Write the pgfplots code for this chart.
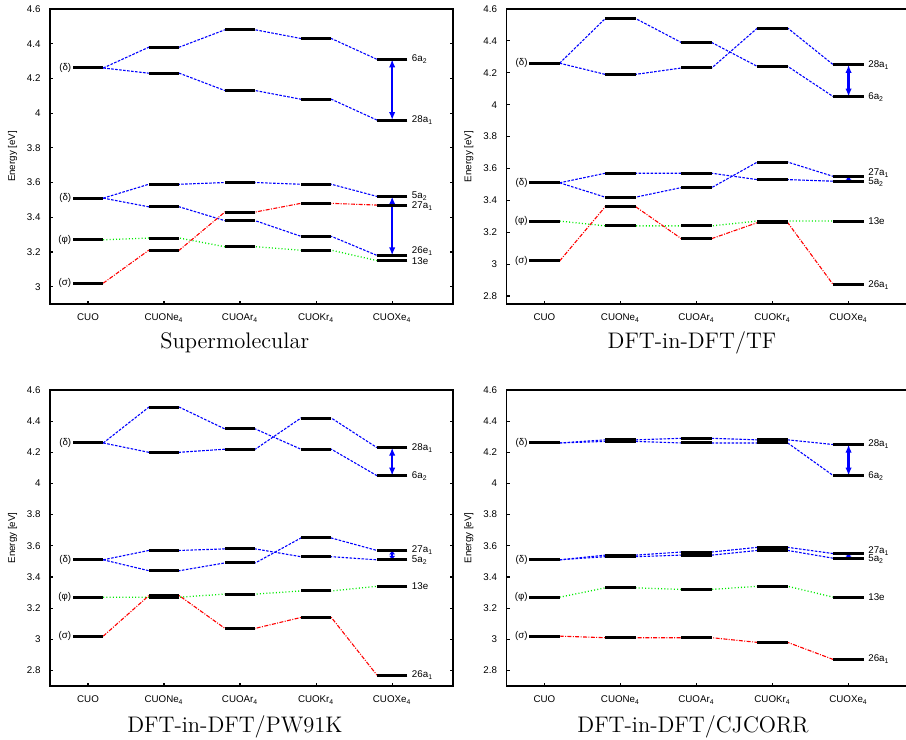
\documentclass[border=0pt]{standalone}
\usepackage{pgfplots}
\pgfplotsset{compat=1.18}
\usepackage{fontspec}
\setsansfont{Liberation Sans}
\usetikzlibrary{arrows.meta}
\definecolor{gpblue}{RGB}{0,0,255}
\definecolor{gpgreen}{RGB}{0,235,0}
\definecolor{gpred}{RGB}{255,0,0}
\newcommand{\lf}{\sffamily\fontsize{4.9}{5.6}\selectfont}
\newcommand{\ttl}{\fontsize{11.3}{13.5}\selectfont}
\pgfplotsset{
  lvl/.style={scale only axis, width=201.5bp, xmin=-0.5, xmax=4.8, ymax=4.6,
    xtick={0,1,2,3,4},
    xticklabels={CUO,CUONe\textsubscript{4},CUOAr\textsubscript{4},CUOKr\textsubscript{4},CUOXe\textsubscript{4}},
    tick align=inside, xtick pos=left, ytick pos=both, yticklabel pos=left,
    major tick length=1.7bp, every tick/.style={black, line width=0.6bp},
    axis line style={line width=0.9bp},
    tick label style={font=\lf}, /pgf/number format/assume math mode=true,
    xticklabel style={yshift=-1.2bp}, yticklabel style={xshift=-1.2bp},
    ylabel={Energy [eV]},
    ylabel style={font=\lf, at={(axis description cs:-0.093,0.5)}, anchor=center},
  },
  bl/.style={gpblue, line width=0.55bp, dash pattern=on 1.3bp off 0.7bp, mark=none},
  gr/.style={gpgreen, line width=0.65bp, dash pattern=on 0.5bp off 1.1bp, mark=none},
  rd/.style={gpred, line width=0.55bp, dash pattern=on 2bp off 0.7bp on 0.5bp off 0.7bp, mark=none},
  lev/.style={black, only marks, mark=-, mark size=7.6bp, mark options={line width=1.5bp, black, solid}},
}
% chain of connectors: style, values at CUO, Ne, Ar, Kr, Xe
\newcommand{\chain}[6]{\addplot[#1] coordinates {(0.2,#2) (0.8,#3) (1.2,#3) (1.8,#4) (2.2,#4) (2.8,#5) (3.2,#5) (3.8,#6)};}
\newcommand{\rlab}[3][0bp]{\node[anchor=west, inner sep=0pt, font=\lf, xshift=2.1bp, yshift=#1] at (axis cs:4.2,#2) {#3};}
\newcommand{\leftlab}[2]{\node[anchor=east, inner sep=0pt, font=\lf, xshift=-0.6bp] at (axis cs:-0.2,#1) {#2};}
\newcommand{\leftlabs}{\leftlab{4.26}{(δ)}\leftlab{3.51}{(δ)}\leftlab{3.27}{(φ)}\leftlab{3.02}{(σ)}}
\newcommand{\arr}[3][4bp]{\addplot[gpblue, line width=1.2bp, {Latex[length=#1,width=3.2bp]}-{Latex[length=#1,width=3.2bp]}] coordinates {(4,#2) (4,#3)};}

\begin{document}
\begin{tikzpicture}
\path[use as bounding box, clip] (0,0) rectangle (453bp,370bp);

% ---------------- Supermolecular ----------------
\begin{axis}[lvl, at={(25bp,218bp)}, anchor=south west, height=147.5bp, ymin=2.9,
  ytick={3,3.2,3.4,3.6,3.8,4,4.2,4.4,4.6}]
\chain{bl}{4.26}{4.38}{4.48}{4.43}{4.31}
\chain{bl}{4.26}{4.23}{4.13}{4.08}{3.96}
\chain{bl}{3.51}{3.59}{3.60}{3.59}{3.52}
\chain{bl}{3.51}{3.46}{3.38}{3.29}{3.18}
\chain{gr}{3.27}{3.28}{3.23}{3.21}{3.15}
\chain{rd}{3.02}{3.21}{3.43}{3.48}{3.47}
\addplot[lev] coordinates {
 (0,4.26) (0,3.51) (0,3.27) (0,3.02)
 (1,4.38) (1,4.23) (1,3.59) (1,3.46) (1,3.28) (1,3.21)
 (2,4.48) (2,4.13) (2,3.60) (2,3.38) (2,3.23) (2,3.43)
 (3,4.43) (3,4.08) (3,3.59) (3,3.29) (3,3.21) (3,3.48)
 (4,4.31) (4,3.96) (4,3.52) (4,3.18) (4,3.15) (4,3.47)};
\arr{4.31}{3.96}
\arr{3.52}{3.18}
\leftlabs
\rlab{4.31}{6a\textsubscript{2}}
\rlab{3.96}{28a\textsubscript{1}}
\rlab[0.3bp]{3.52}{5a\textsubscript{2}}
\rlab[-0.5bp]{3.47}{27a\textsubscript{1}}
\rlab[2bp]{3.18}{26e\textsubscript{1}}
\rlab[-0.4bp]{3.15}{13e}
\end{axis}

% ---------------- DFT-in-DFT/TF ----------------
\begin{axis}[lvl, at={(253.2bp,218bp)}, anchor=south west, height=147.5bp, ymin=2.75,
  ytick={2.8,3,3.2,3.4,3.6,3.8,4,4.2,4.4,4.6}]
\chain{bl}{4.26}{4.54}{4.39}{4.24}{4.05}
\chain{bl}{4.26}{4.19}{4.23}{4.48}{4.25}
\chain{bl}{3.51}{3.57}{3.57}{3.53}{3.52}
\chain{bl}{3.51}{3.42}{3.48}{3.64}{3.55}
\chain{gr}{3.27}{3.24}{3.24}{3.27}{3.27}
\chain{rd}{3.02}{3.36}{3.16}{3.26}{2.87}
\addplot[lev] coordinates {
 (0,4.26) (0,3.51) (0,3.27) (0,3.02)
 (1,4.54) (1,4.19) (1,3.57) (1,3.42) (1,3.24) (1,3.36)
 (2,4.39) (2,4.23) (2,3.57) (2,3.48) (2,3.24) (2,3.16)
 (3,4.48) (3,4.24) (3,3.64) (3,3.53) (3,3.27) (3,3.26)
 (4,4.25) (4,4.05) (4,3.55) (4,3.52) (4,3.27) (4,2.87)};
\arr{4.25}{4.05}
\arr[0.9bp]{3.55}{3.52}
\leftlabs
\rlab{4.25}{28a\textsubscript{1}}
\rlab{4.05}{6a\textsubscript{2}}
\rlab[1.6bp]{3.55}{27a\textsubscript{1}}
\rlab[-0.3bp]{3.52}{5a\textsubscript{2}}
\rlab{3.27}{13e}
\rlab{2.87}{26a\textsubscript{1}}
\end{axis}

% ---------------- DFT-in-DFT/PW91K ----------------
\begin{axis}[lvl, at={(25bp,27bp)}, anchor=south west, height=148bp, ymin=2.7,
  ytick={2.8,3,3.2,3.4,3.6,3.8,4,4.2,4.4,4.6}]
\chain{bl}{4.26}{4.49}{4.35}{4.22}{4.05}
\chain{bl}{4.26}{4.20}{4.22}{4.42}{4.23}
\chain{bl}{3.51}{3.57}{3.58}{3.53}{3.51}
\chain{bl}{3.51}{3.44}{3.49}{3.65}{3.57}
\chain{gr}{3.27}{3.27}{3.29}{3.31}{3.34}
\chain{rd}{3.02}{3.28}{3.07}{3.14}{2.77}
\addplot[lev] coordinates {
 (0,4.26) (0,3.51) (0,3.27) (0,3.02)
 (1,4.49) (1,4.20) (1,3.57) (1,3.44) (1,3.27) (1,3.28)
 (2,4.35) (2,4.22) (2,3.58) (2,3.49) (2,3.29) (2,3.07)
 (3,4.42) (3,4.22) (3,3.65) (3,3.53) (3,3.31) (3,3.14)
 (4,4.23) (4,4.05) (4,3.57) (4,3.51) (4,3.34) (4,2.77)};
\arr{4.23}{4.05}
\arr[2bp]{3.57}{3.51}
\leftlabs
\rlab{4.23}{28a\textsubscript{1}}
\rlab{4.05}{6a\textsubscript{2}}
\rlab{3.57}{27a\textsubscript{1}}
\rlab{3.51}{5a\textsubscript{2}}
\rlab{3.34}{13e}
\rlab{2.77}{26a\textsubscript{1}}
\end{axis}

% ---------------- DFT-in-DFT/CJCORR ----------------
\begin{axis}[lvl, at={(253.2bp,27bp)}, anchor=south west, height=148bp, ymin=2.7,
  ytick={2.8,3,3.2,3.4,3.6,3.8,4,4.2,4.4,4.6}]
\chain{bl}{4.26}{4.28}{4.29}{4.28}{4.25}
\chain{bl}{4.26}{4.27}{4.26}{4.26}{4.05}
\chain{bl}{3.51}{3.54}{3.56}{3.59}{3.55}
\chain{bl}{3.51}{3.53}{3.54}{3.57}{3.52}
\chain{gr}{3.27}{3.33}{3.32}{3.34}{3.27}
\chain{rd}{3.02}{3.01}{3.01}{2.98}{2.87}
\addplot[lev] coordinates {
 (0,4.26) (0,3.51) (0,3.27) (0,3.02)
 (1,4.28) (1,4.27) (1,3.54) (1,3.53) (1,3.33) (1,3.01)
 (2,4.29) (2,4.26) (2,3.56) (2,3.54) (2,3.32) (2,3.01)
 (3,4.28) (3,4.26) (3,3.59) (3,3.57) (3,3.34) (3,2.98)
 (4,4.25) (4,4.05) (4,3.55) (4,3.52) (4,3.27) (4,2.87)};
\arr{4.25}{4.05}
\arr[0.9bp]{3.55}{3.52}
\leftlabs
\rlab{4.25}{28a\textsubscript{1}}
\rlab{4.05}{6a\textsubscript{2}}
\rlab[1.2bp]{3.55}{27a\textsubscript{1}}
\rlab[-0.4bp]{3.52}{5a\textsubscript{2}}
\rlab{3.27}{13e}
\rlab{2.87}{26a\textsubscript{1}}
\end{axis}

\node[anchor=base, font=\ttl] at (117.35bp,195.6bp) {Supermolecular};
\node[anchor=base, font=\ttl] at (346bp,195.6bp) {DFT-in-DFT/TF};
\node[anchor=base, font=\ttl] at (117.5bp,4bp) {DFT-in-DFT/PW91K};
\node[anchor=base, font=\ttl] at (346.5bp,4bp) {DFT-in-DFT/CJCORR};
\end{tikzpicture}
\end{document}
